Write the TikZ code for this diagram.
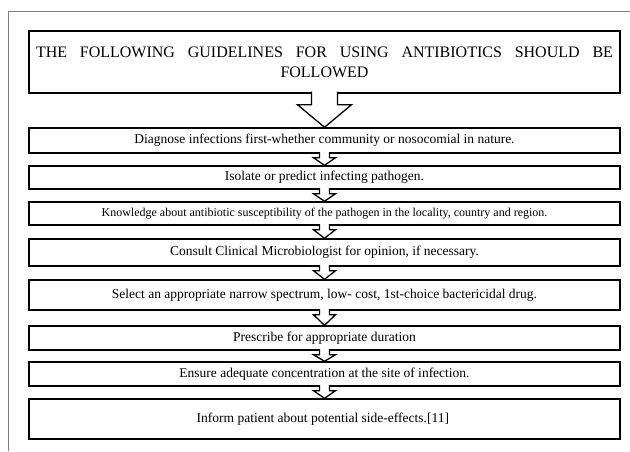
\documentclass[tikz,border=0pt]{standalone}
\usepackage{fontspec}
\setmainfont{Liberation Serif}
\newcommand{\smallerText}{\fontsize{12}{14}\selectfont}
\begin{document}
\begin{tikzpicture}[
  x=1pt,
  y=-1pt,
  frame line/.style={draw=black!50, line width=0.9pt},
  step box/.style={
    draw,
    line width=1.4pt,
    fill=white,
    minimum width=591pt,
    inner sep=0pt,
    align=center,
    font=\fontsize{13.5}{16}\selectfont
  },
  block arrow/.style={draw, line width=1.3pt, fill=white, line join=miter}
]
  \useasboundingbox (0,0) rectangle (630,451);
  \draw[frame line] (8,451) -- (8,11) -- (630,11);

  % title box
  \node[step box, minimum height=62pt, text width=577pt,
        font=\fontsize{16}{20}\selectfont] (title) at (324.5,62)
    {\hbox to 577pt{THE\hfill FOLLOWING\hfill GUIDELINES\hfill FOR\hfill USING\hfill ANTIBIOTICS\hfill SHOULD\hfill BE}\\FOLLOWED\\[9pt]};

  % guideline boxes
  \foreach \boxName/\boxTop/\boxBottom/\boxText in {
    diagnose/128/153/{Diagnose infections first-whether community or nosocomial in nature.},
    isolate/166/189/{Isolate or predict infecting pathogen.},
    knowledge/202/225/{\smallerText Knowledge about antibiotic susceptibility of the pathogen in the locality, country and region.},
    consult/239/266/{Consult Clinical Microbiologist for opinion, if necessary.},
    select/280/310/{Select an appropriate narrow spectrum, low- cost, 1st-choice bactericidal drug.},
    prescribe/326/350/{Prescribe for appropriate duration},
    ensure/362/386/{Ensure adequate concentration at the site of infection.},
    inform/399/439/{Inform patient about potential side-effects.[11]}
  } {
    \pgfmathsetmacro{\boxMid}{(\boxTop+\boxBottom)/2}
    \pgfmathsetmacro{\boxHeight}{\boxBottom-\boxTop}
    \node[step box, minimum height=\boxHeight pt] (\boxName) at (324.5,\boxMid) {\boxText};
  }

  % big arrow
  \filldraw[block arrow]
    ([xshift=-13pt,yshift=2pt]title.south) -- ([xshift=-13pt,yshift=-11pt]title.south)
    -- ([xshift=-27pt,yshift=-11pt]title.south) -- (diagnose.north)
    -- ([xshift=27pt,yshift=-11pt]title.south) -- ([xshift=13pt,yshift=-11pt]title.south)
    -- ([xshift=13pt,yshift=2pt]title.south);

  % small arrows
  \foreach \upperBox/\lowerBox in {diagnose/isolate, isolate/knowledge, knowledge/consult,
      consult/select, select/prescribe, prescribe/ensure, ensure/inform} {
    \filldraw[block arrow]
      ([xshift=-5pt,yshift=1.5pt]\upperBox.south) -- ([xshift=-5pt,yshift=-4pt]\upperBox.south)
      -- ([xshift=-11pt,yshift=-4pt]\upperBox.south) -- (\lowerBox.north)
      -- ([xshift=11pt,yshift=-4pt]\upperBox.south) -- ([xshift=5pt,yshift=-4pt]\upperBox.south)
      -- ([xshift=5pt,yshift=1.5pt]\upperBox.south);
  }
\end{tikzpicture}
\end{document}
